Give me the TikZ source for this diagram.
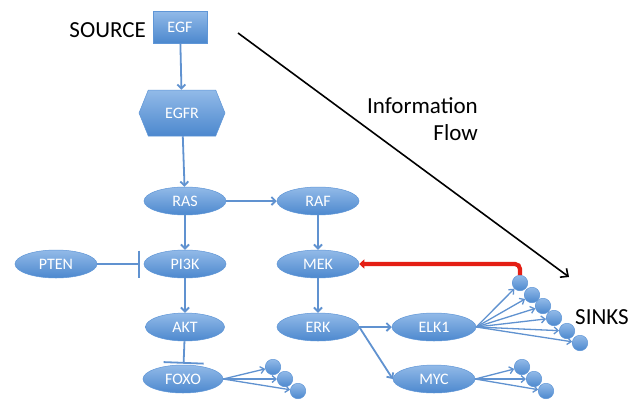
\documentclass[tikz,border=0pt]{standalone}
\usepackage{fontspec}
\setmainfont{Carlito}
\usetikzlibrary{shapes.geometric,shapes.symbols,arrows.meta}
\definecolor{nodetop}{RGB}{146,186,232}
\definecolor{nodebot}{RGB}{76,136,206}
\definecolor{nodeedge}{RGB}{95,150,215}
\definecolor{edgeblue}{RGB}{96,146,208}
\definecolor{fbred}{RGB}{228,30,20}
\tikzset{
  x=1pt,y=-1pt,
  shaded/.style={top color=nodetop, bottom color=nodebot, draw=nodeedge, line width=0.5pt,
    text=white, font=\fontsize{16}{16}\selectfont, inner sep=0pt},
  oval/.style={shaded, ellipse, minimum width=82pt, minimum height=28pt},
  dot/.style={top color=nodetop, bottom color=nodebot, draw=nodeedge, line width=0.5pt,
    circle, minimum size=15.5pt, inner sep=0pt},
  act/.style={draw=edgeblue, line width=1.8pt, -{Straight Barb[length=4pt,width=8pt]}},
  thin act/.style={draw=edgeblue, line width=1.3pt, -{Straight Barb[length=4pt,width=7pt]}},
  inh/.style={draw=edgeblue, line width=1.8pt, -{Bar[width=#1, line width=1.8pt]}},
  biglabel/.style={font=\fontsize{23}{27}\selectfont, text=black, inner sep=0pt}
}
\begin{document}
\begin{tikzpicture}
\fill[white] (0,0) rectangle (642,402);
\useasboundingbox (0,0) rectangle (642,402);

% nodes
\node[shaded, rectangle, minimum width=54pt, minimum height=32pt] (EGF) at (180,27) {EGF};
\node[shaded, signal, signal to=west and east, signal pointer angle=136,
      minimum width=86pt, minimum height=46pt] (EGFR) at (182,113) {EGFR};
\node[oval] (RAS)  at (185,201) {RAS};
\node[oval] (RAF)  at (318,201) {RAF};
\node[oval] (PTEN) at (56,264) {PTEN};
\node[oval] (PI3K) at (185,264) {PI3K};
\node[oval] (MEK)  at (318,264) {MEK};
\node[oval, minimum width=79pt] (AKT)  at (185,327) {AKT};
\node[oval] (ERK)  at (318,327) {ERK};
\node[oval, minimum width=80pt] (FOXO) at (183,379) {FOXO};
\node[oval, minimum width=84pt] (ELK1) at (434,327) {ELK1};
\node[oval] (MYC)  at (434,379) {MYC};

% sink dots
\node[dot] (e1) at (520,283) {};
\node[dot] (e2) at (532,295) {};
\node[dot] (e3) at (543,306) {};
\node[dot] (e4) at (554,318) {};
\node[dot] (e5) at (567,331) {};
\node[dot] (e6) at (580,343) {};
\node[dot] (f1) at (273,367) {};
\node[dot] (f2) at (285,379) {};
\node[dot] (f3) at (298,391) {};
\node[dot] (m1) at (522,367) {};
\node[dot] (m2) at (534,379) {};
\node[dot] (m3) at (546,391) {};

% labels
\node[biglabel, anchor=east] (src) at (146,30) {SOURCE};
\node[biglabel, anchor=west] (snk) at (575,317) {SINKS};
\node[biglabel, align=right, anchor=north east] (info) at (478,97) {Information\\Flow};

% information flow arrow
\coordinate (ia) at (238,33);
\coordinate (ib) at (569,277);
\draw[black, line width=1.6pt, -{Straight Barb[length=6pt,width=11pt]}] (ia) -- (ib);

% edges
\draw[act] (EGF) -- (EGFR);
\draw[act] (EGFR) -- (RAS);
\draw[act] (RAS) -- (RAF);
\draw[act] (RAS) -- (PI3K);
\draw[act] (RAF) -- (MEK);
\draw[act] (PI3K) -- (AKT);
\draw[act] (MEK) -- (ERK);
\draw[inh=27pt, shorten >=4pt] (PTEN) -- (PI3K);
\draw[inh=40pt, shorten >=1pt] (AKT) -- (FOXO);
\draw[act] (ERK) -- (ELK1);
\draw[act] (ERK.east) -- (MYC.west);

\foreach \t in {e1,e2,e3,e4,e5,e6}{\draw[thin act] (ELK1.east) -- (\t);}
\foreach \t in {f1,f2,f3}{\draw[thin act] (FOXO.east) -- (\t);}
\foreach \t in {m1,m2,m3}{\draw[thin act] (MYC.east) -- (\t);}

% feedback
\draw[fbred, line width=4.2pt, rounded corners=5pt, -{Triangle[length=5pt,width=9pt]}] (e1.north) |- (MEK.east);
\end{tikzpicture}
\end{document}
